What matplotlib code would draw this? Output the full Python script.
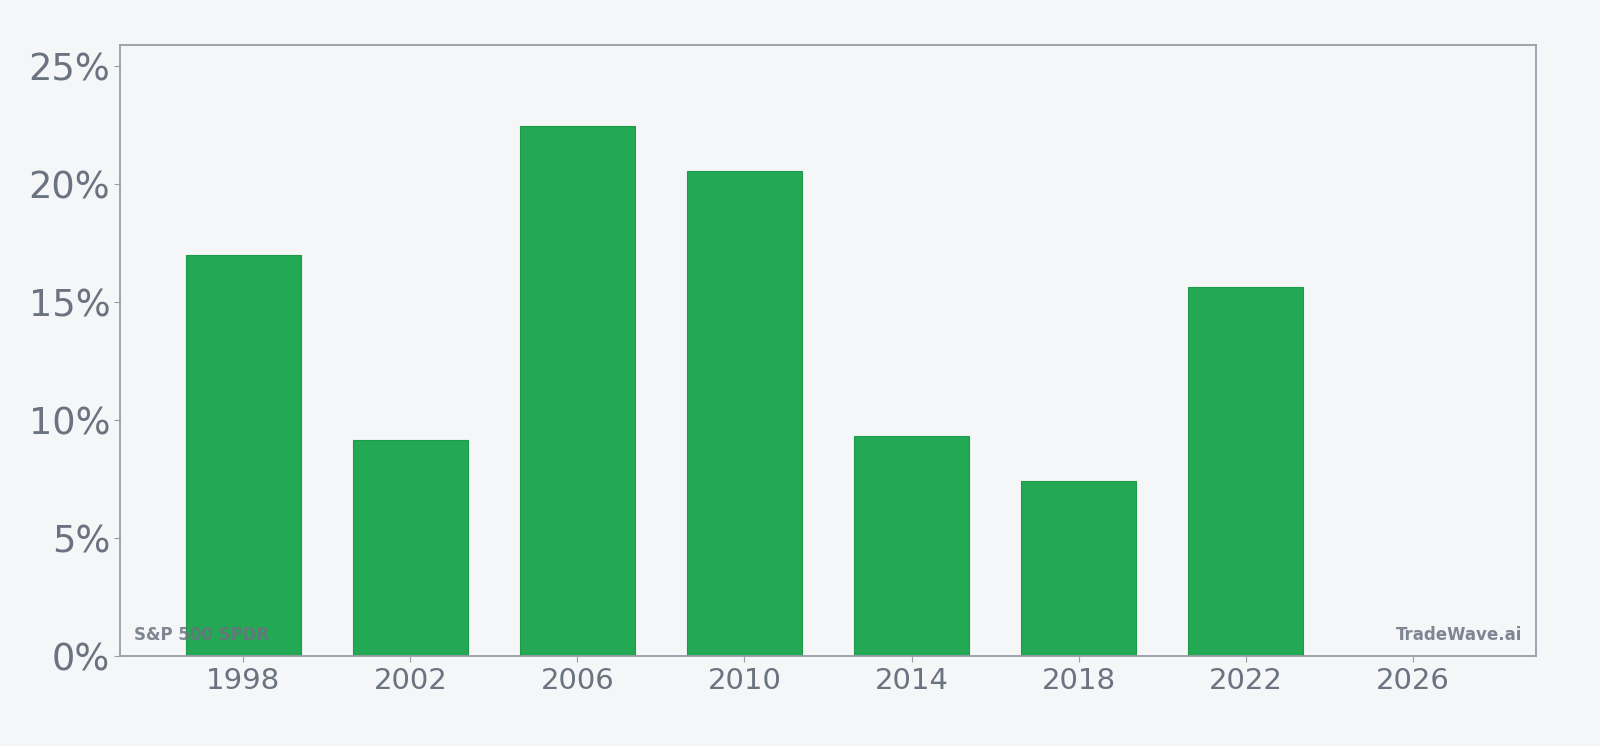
import matplotlib
matplotlib.use("Agg")
import matplotlib.pyplot as plt
from matplotlib.ticker import FuncFormatter

years = [1998, 2002, 2006, 2010, 2014, 2018, 2022]
values = [17.0, 9.15, 22.48, 20.58, 9.33, 7.43, 15.65]
xticks = [1998, 2002, 2006, 2010, 2014, 2018, 2022, 2026]
yticks = [0, 5, 10, 15, 20, 25]

bg = "#f4f6f8"
text_col = "#6b7280"
spine_col = "#9a9ca8"

fig = plt.figure(figsize=(16, 7.46), dpi=100, facecolor=bg)
ax = fig.add_axes([120 / 1600, 1 - 656 / 746, 1416 / 1600, 611 / 746])
ax.set_facecolor(bg)

ax.bar(years, values, width=2.75, color="#23a853", edgecolor="#1f9a4b", linewidth=0.8, zorder=2)

ax.set_xlim(1995.05, 2028.95)
ax.set_ylim(0, 25.9)
ax.set_xticks(xticks)
ax.set_yticks(yticks)
ax.yaxis.set_major_formatter(FuncFormatter(lambda v, p: f"{v:.0f}%"))

ax.tick_params(axis="y", labelsize=26.5, colors=spine_col, labelcolor=text_col, length=4, pad=3)
ax.tick_params(axis="x", labelsize=21, colors=spine_col, labelcolor=text_col, length=4, pad=4)
for s in ax.spines.values():
    s.set_color(spine_col)
    s.set_linewidth(1.3)

ax.text(0.01, 0.026, "S&P 500 SPDR", transform=ax.transAxes, fontsize=12,
        fontweight="bold", color=text_col, alpha=0.85, ha="left", va="baseline", zorder=3)
ax.text(0.99, 0.026, "TradeWave.ai", transform=ax.transAxes, fontsize=12,
        fontweight="bold", color=text_col, alpha=0.85, ha="right", va="baseline", zorder=3)

fig.savefig("out.png", dpi=100, facecolor=bg)
